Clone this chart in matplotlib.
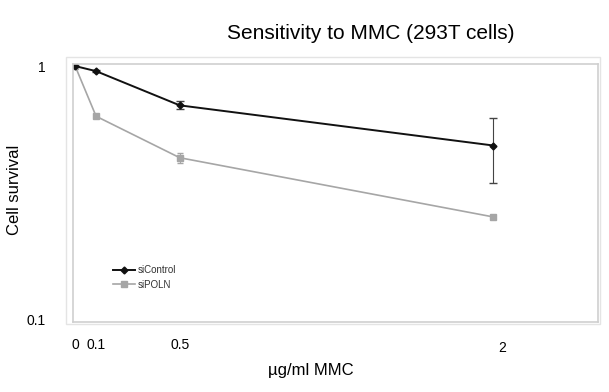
import matplotlib
matplotlib.use('Agg')
import matplotlib.pyplot as plt
import matplotlib.transforms as mtransforms
from matplotlib.patches import Rectangle
from matplotlib.lines import Line2D

plt.rcParams['font.family'] = ['Liberation Sans', 'DejaVu Sans']

dose = [0, 0.1, 0.5, 2]
sicontrol = [1.0, 0.955, 0.70, 0.486]
sicontrol_err = [0.0, 0.01, 0.025, 0.14]
sipoln = [1.0, 0.634, 0.435, 0.254]
sipoln_err = [0.0, 0.01, 0.02, 0.005]
tick_labels = ['0', '0.1', '0.5', '2']

fig = plt.figure(figsize=(6.09, 3.92), dpi=100)
ax = fig.add_axes([0.120, 0.179, 0.862, 0.658])

# outer light frame, like the exported chart area
fig.patches.append(Rectangle((66 / 609, 1 - 324 / 392), (600 - 66) / 609, (324 - 57) / 392,
                             transform=fig.transFigure, fill=False, edgecolor='#e4e4e4', lw=1.0))

ax.errorbar(dose, sipoln, yerr=sipoln_err, color='#a6a6a6', marker='s', markersize=5,
            lw=1.2, capsize=2, elinewidth=0.8)
ax.errorbar(dose, sicontrol, yerr=sicontrol_err, color='#111111', marker='D', markersize=3.5,
            lw=1.4, capsize=3, elinewidth=0.8, ecolor='#444444')

ax.set_yscale('log')
ax.set_ylim(0.098, 1.02)
ax.set_xlim(-0.01, 2.5)
ax.set_yticks([0.1, 1])
ax.set_yticklabels(['0.1', '1'])
ax.yaxis.set_minor_locator(matplotlib.ticker.NullLocator())
ax.set_xticks(dose)
ax.set_xticklabels(tick_labels)
ax.tick_params(length=0, labelsize=10, pad=12)
ax.tick_params(axis='y', pad=20)

# the "2" label sits a little right and lower in the original
lab = ax.get_xticklabels()[-1]
lab.set_transform(lab.get_transform() + mtransforms.ScaledTranslation(0.09, -0.03, fig.dpi_scale_trans))

for s in ax.spines.values():
    s.set_color('#cfcfcf')
    s.set_linewidth(1.2)

fig.text(311 / 609, 1 - 371 / 392, 'µg/ml MMC', fontsize=12, ha='center', va='center')
fig.text(15 / 609, 1 - 190 / 392, 'Cell survival', fontsize=12, ha='center', va='center', rotation=90)
fig.text(0.608, 0.915, 'Sensitivity to MMC (293T cells)', fontsize=15, ha='center', va='center')

handles = [Line2D([], [], color='#111111', marker='D', markersize=3.5, lw=1.4),
           Line2D([], [], color='#a6a6a6', marker='s', markersize=5, lw=1.2)]
ax.legend(handles, ['siControl', 'siPOLN'], loc='lower left', bbox_to_anchor=(0.06, 0.09),
          frameon=False, fontsize=7, handlelength=2.2, handletextpad=0.3, labelspacing=0.5,
          labelcolor='#333333')

fig.savefig('out.png', dpi=100)
